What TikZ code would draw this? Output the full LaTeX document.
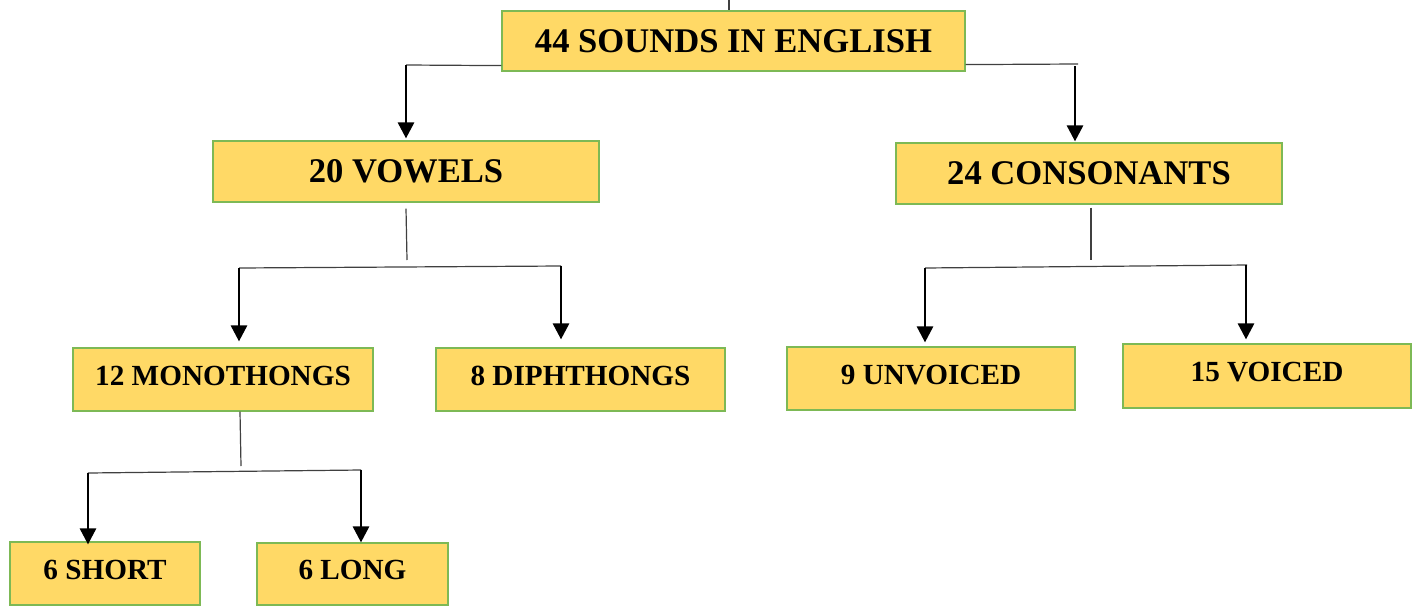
\documentclass[tikz,border=0pt]{standalone}
\usepackage{fontspec}
\setmainfont{Liberation Serif}
\usetikzlibrary{arrows.meta}
\definecolor{boxfill}{HTML}{FFD966}
\definecolor{boxline}{HTML}{7DB955}
\tikzset{
  catbox/.style={draw=boxline, line width=0.6pt, fill=boxfill, inner sep=0pt,
    font=\fontsize{17.3}{20}\selectfont\bfseries},
  subbox/.style={catbox, font=\fontsize{14.6}{17}\selectfont\bfseries, text depth=4pt},
  link/.style={draw=black!75, line width=0.6pt},
  drop/.style={draw=black, line width=1.4pt, -{Triangle[length=8pt,width=8pt]}},
}
\begin{document}
\begin{tikzpicture}[x=0.5pt,y=-0.5pt]
\useasboundingbox (0,0) rectangle (1417,605);

% boxes
\node[catbox, minimum width=231.5pt, minimum height=30pt] (root) at (733.5,41) {44 SOUNDS IN ENGLISH};
\node[catbox, minimum width=193pt, minimum height=30.5pt] (vowels) at (406,171.5) {20 VOWELS};
\node[catbox, minimum width=193pt, minimum height=30.5pt] (cons) at (1089,173.5) {24 CONSONANTS};
\node[subbox, minimum width=150pt, minimum height=31.5pt] (mono) at (223,379.5) {12 MONOTHONGS};
\node[subbox, minimum width=144.5pt, minimum height=31.5pt] (diph) at (580.5,379.5) {8 DIPHTHONGS};
\node[subbox, minimum width=144pt, minimum height=31.5pt] (unv) at (931,378.5) {9 UNVOICED};
\node[subbox, minimum width=144pt, minimum height=32pt] (voi) at (1267,376) {15 VOICED};
\node[subbox, minimum width=95pt, minimum height=31.5pt] (short) at (105,573.5) {6 SHORT};
\node[subbox, minimum width=95.5pt, minimum height=31pt] (long) at (352.5,574) {6 LONG};

% stub above the root
\coordinate (tk) at (729,0);
\draw[link] (tk) -- (tk |- root.north);

% root to vowels and consonants
\coordinate (aL) at (406,65);
\draw[link] ([yshift=3pt]root.south west) -- (aL);
\draw[drop, shorten >=1pt] (aL) -- (vowels.north);
\coordinate (aR0) at (1078,64);
\draw[link] ([yshift=3.5pt]root.south east) -- (aR0);
\coordinate (aR) at (1075,66);
\draw[drop, shorten >=0.5pt] (aR) -- (aR |- cons.north);

% vowels branch
\coordinate (v1) at (407,260);
\draw[link] ([yshift=-3pt]vowels.south) -- (v1);
\coordinate (vL) at (239,268);
\coordinate (vR) at (561,266);
\draw[link] (vL) -- (vR);
\draw[drop, shorten >=3pt] (vL) -- (vL |- mono.north);
\draw[drop, shorten >=4pt] (vR) -- (vR |- diph.north);

% consonants branch
\coordinate (c1) at (1091,260);
\draw[link] ([xshift=1pt,yshift=-1.5pt]cons.south) -- (c1);
\coordinate (cL) at (925,268);
\coordinate (cR) at (1247,265);
\draw[link] (cL) -- (cR);
\draw[drop, shorten >=2pt] (cL) -- (cL |- unv.north);
\draw[drop, shorten >=2pt] ([xshift=-0.5pt]cR) -- ([xshift=-0.5pt]cR |- voi.north);

% monothongs branch
\coordinate (m1) at (241,466);
\draw[link] ([xshift=8.5pt]mono.south) -- (m1);
\coordinate (mL) at (88,473);
\coordinate (mR) at (361,470);
\draw[link] (mL) -- (mR);
\draw[drop, shorten >=-1.5pt] (mL) -- (mL |- short.north);
\draw[drop] (mR) -- (mR |- long.north);
\end{tikzpicture}
\end{document}
